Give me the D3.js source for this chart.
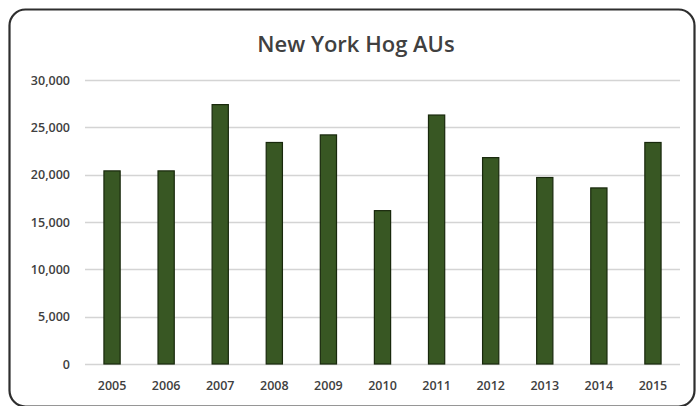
<!DOCTYPE html>
<html>
<head>
<meta charset="utf-8">
<script src="https://cdn.jsdelivr.net/npm/d3@7"></script>
<style>
  html, body { margin: 0; padding: 0; background: #fff; }
  svg { display: block; }
</style>
</head>
<body>
<svg id="chart" width="697" height="406"></svg>
<script>
// Hog animal units in New York, by year
const years = ["2005", "2006", "2007", "2008", "2009", "2010", "2011", "2012", "2013", "2014", "2015"];
const hogAUs = [20400, 20400, 27400, 23400, 24200, 16200, 26300, 21800, 19700, 18600, 23400];
const yTicks = [0, 5000, 10000, 15000, 20000, 25000, 30000];
const chartTitle = "New York Hog AUs";

const svg = d3.select("#chart");
const W = 697, H = 406;
const margin = { top: 80, right: 17, bottom: 42, left: 85 };
const innerW = W - margin.left - margin.right;
const innerH = H - margin.top - margin.bottom;
const font = "'Open Sans', 'Liberation Sans', sans-serif";
const textColor = "#404040";

// chart area frame
svg.append("rect")
  .attr("x", 9.5).attr("y", 9.5)
  .attr("width", W - 12).attr("height", H - 9)
  .attr("rx", 16).attr("ry", 16)
  .attr("fill", "#fff")
  .attr("stroke", "#2e2e2e")
  .attr("stroke-width", 2.2);

const g = svg.append("g").attr("transform", `translate(${margin.left},${margin.top})`);

const x = d3.scaleBand().domain(years).range([0, innerW]).paddingInner(0.7).paddingOuter(0.35);
const y = d3.scaleLinear().domain([0, 30000]).range([innerH, 0]);

// horizontal gridlines
g.append("g")
  .selectAll("line")
  .data(yTicks)
  .join("line")
  .attr("x1", 0).attr("x2", innerW)
  .attr("y1", d => Math.round(y(d)) + 0.5)
  .attr("y2", d => Math.round(y(d)) + 0.5)
  .attr("stroke", "#d4d4d4")
  .attr("stroke-width", 1.5);

// y axis labels
const yAxis = d3.axisLeft(y).tickValues(yTicks).tickFormat(d3.format(",")).tickSize(0).tickPadding(15);
g.append("g").call(yAxis)
  .call(a => a.select(".domain").remove())
  .selectAll("text")
  .attr("fill", textColor)
  .attr("font-family", font)
  .attr("font-size", 12.5)
  .attr("font-weight", 600);

// x axis labels
const xAxis = d3.axisBottom(x).tickSize(0).tickPadding(17);
g.append("g").attr("transform", `translate(0,${innerH})`).call(xAxis)
  .call(a => a.select(".domain").remove())
  .selectAll("text")
  .attr("fill", textColor)
  .attr("font-family", font)
  .attr("font-size", 12.5)
  .attr("font-weight", 600);

// bars
g.append("g")
  .selectAll("rect")
  .data(years.map((yr, i) => ({ yr, v: hogAUs[i] })))
  .join("rect")
  .attr("x", d => x(d.yr))
  .attr("y", d => y(d.v))
  .attr("width", x.bandwidth())
  .attr("height", d => innerH - y(d.v))
  .attr("fill", "#385723")
  .attr("stroke", "#18280c")
  .attr("stroke-width", 1.2);

// title
svg.append("text")
  .attr("x", 356).attr("y", 52)
  .attr("text-anchor", "middle")
  .attr("fill", textColor)
  .attr("font-family", font)
  .attr("font-size", 22)
  .attr("font-weight", 600)
  .text(chartTitle);
</script>
</body>
</html>
